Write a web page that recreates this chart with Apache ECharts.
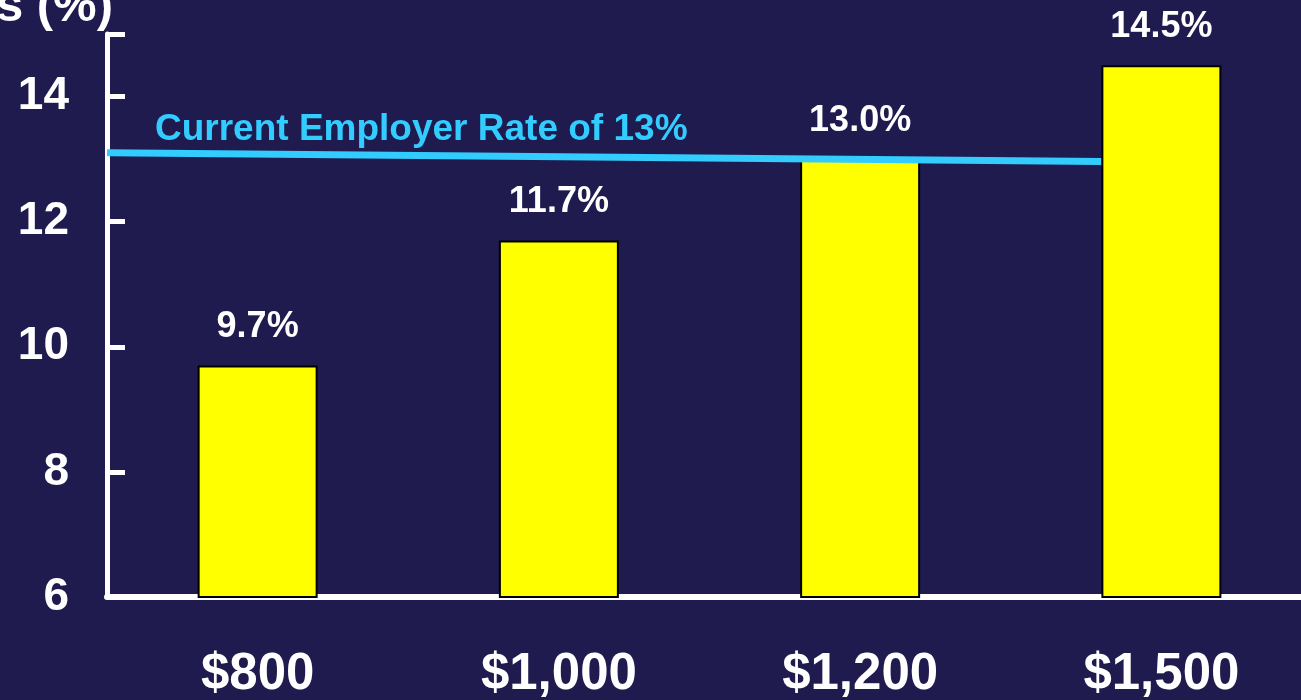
<!DOCTYPE html>
<html>
<head>
<meta charset="utf-8">
<script src="https://cdn.jsdelivr.net/npm/echarts@6/dist/echarts.min.js"></script>
<style>
  html, body { margin: 0; padding: 0; background: #1f1b4f; overflow: hidden; }
  #chart { width: 1312px; height: 700px; }
</style>
</head>
<body>
<div id="chart"></div>
<script>
// chart data
const categories = ['$800', '$1,000', '$1,200', '$1,500'];
const rates = [9.7, 11.7, 13.0, 14.5];
const rateLabels = ['9.7%', '11.7%', '13.0%', '14.5%'];
const yTicks = [6, 8, 10, 12, 14];
// current employer rate line (x in category units, y in %)
const employerX = [-0.5, 2.8];
const employerY = [13.1, 12.96];

const chart = echarts.init(document.getElementById('chart'));
const font = 'Liberation Sans, Arial, sans-serif';

const option = {
    backgroundColor: '#1f1b4f',
    animation: false,
    grid: { left: 107, right: 0, top: 34, bottom: 101, containLabel: false },
    xAxis: [{
        type: 'category',
        data: categories,
        axisLine: { lineStyle: { color: '#ffffff', width: 6 } },
        axisTick: { show: false },
        axisLabel: {
            color: '#ffffff', fontSize: 51, fontWeight: 'bold',
            fontFamily: font, margin: 52
        }
    }, {
        type: 'value',
        min: -0.5,
        max: 3.5,
        show: false
    }],
    yAxis: {
        type: 'value',
        min: 6,
        max: 15,
        interval: 2,
        splitLine: { show: false },
        axisLine: { show: true, onZero: false, lineStyle: { color: '#ffffff', width: 5 } },
        axisTick: { show: true, inside: true, length: 18, lineStyle: { color: '#ffffff', width: 5 } },
        axisLabel: {
            color: '#ffffff', fontSize: 46, fontWeight: 'bold',
            fontFamily: font, margin: 38,
            formatter: v => yTicks.includes(v) ? String(v) : ''
        }
    },
    graphic: [{
        type: 'text',
        right: 1312 - 113,
        top: -17,
        style: {
            text: 'Rates (%)',
            fill: '#ffffff',
            font: 'bold 49px ' + font
        }
    }, {
        type: 'text',
        left: 155,
        top: 111,
        style: {
            text: 'Current Employer Rate of 13%',
            fill: '#33ccff',
            font: 'bold 37px ' + font
        }
    }],
    series: [{
        type: 'bar',
        data: rates,
        barWidth: 120,
        itemStyle: { color: '#ffff00', borderColor: '#000000', borderWidth: 2 },
        label: {
            show: true,
            position: 'top',
            distance: 20,
            color: '#ffffff',
            fontSize: 36,
            fontWeight: 'bold',
            fontFamily: font,
            formatter: p => rateLabels[p.dataIndex]
        },
        z: 2
    }, {
        type: 'line',
        xAxisIndex: 1,
        data: employerX.map((x, i) => [x, employerY[i]]),
        symbol: 'none',
        lineStyle: { color: '#33ccff', width: 7 },
        z: 3
    }]
};
chart.setOption(option);
</script>
</body>
</html>
